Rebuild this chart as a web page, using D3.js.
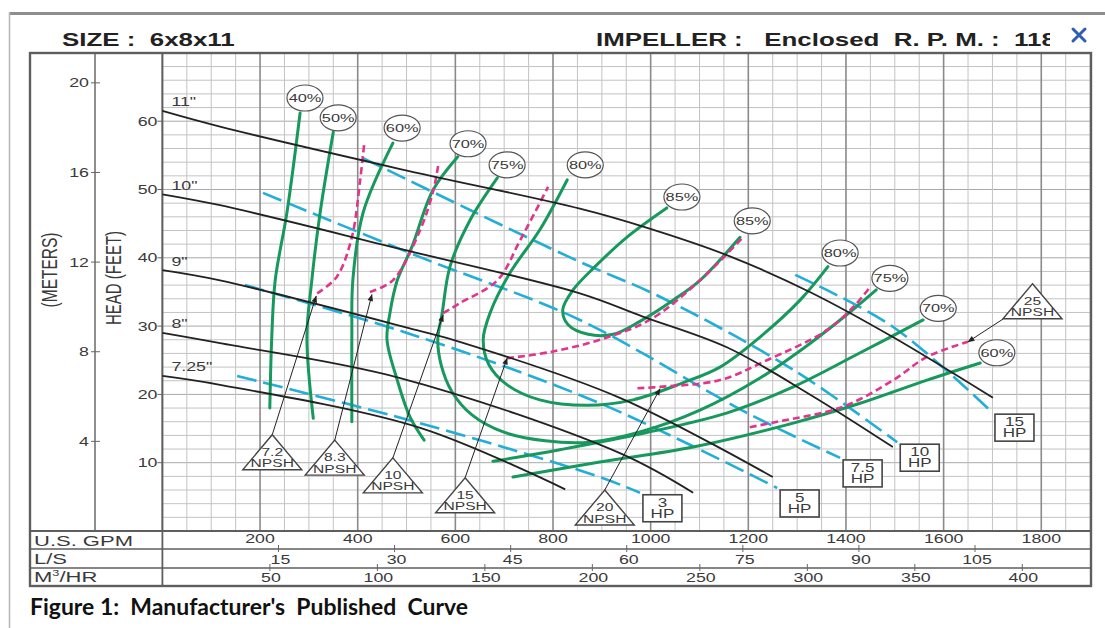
<!DOCTYPE html>
<html>
<head>
<meta charset="utf-8">
<script src="https://cdn.jsdelivr.net/npm/d3@7"></script>
<style>
  html, body { margin: 0; padding: 0; background: #fff; }
  svg { display: block; }
</style>
</head>
<body>
<svg id="chart" width="1105" height="628"></svg>
<script>
// ---------- data (flow in U.S. GPM, head in feet) ----------
const gpmTicks   = [200, 400, 600, 800, 1000, 1200, 1400, 1600, 1800];
const lsTicks    = [15, 30, 45, 60, 75, 90, 105];
const m3hTicks   = [50, 100, 150, 200, 250, 300, 350, 400];
const feetTicks  = [10, 20, 30, 40, 50, 60];
const meterTicks = [4, 8, 12, 16, 20];

// impeller head-capacity curves
const impNames = ['11"', '10"', '9"', '8"', '7.25"'];
const imp11  = [[0,61.5],[118,59.2],[487,53.0],[855,47.2],[988,44.5],[1156,40.4],[1326,35.0],[1496,28.4],[1701,19.5]];
const imp10  = [[0,49.3],[118,47.7],[487,41.3],[855,34.8],[984,31.4],[1156,26.9],[1326,20.0],[1496,12.3]];
const imp9   = [[0,38.2],[118,36.7],[521,29.4],[609,27.7],[937,19.5],[1250,7.9]];
const imp8   = [[0,29.0],[118,27.5],[487,22.4],[937,11.4],[1087,5.6]];
const imp725 = [[0,22.7],[118,21.4],[528,15.1],[825,6.1]];

// iso-efficiency curves
const eff40  = [[282,61.2],[255,46.6],[231,36.7],[224,28.4],[220,18.0]];
const eff50  = [[350,58.4],[323,46.6],[306,36.7],[296,28.4],[309,16.5]];
const eff60L = [[472,56.8],[411,46.6],[390,36.7],[388,28.4],[388,16.0]];
const eff60R = [[718,7.9],[896,10.1],[1087,12.3],[1292,15.8],[1429,18.7],[1566,22.1],[1675,24.6]];
const eff70L = [[605,54.8],[554,49.9],[511,41.6],[481,36.7],[466,31.9],[460,28.0],[481,22.1],[507,16.7],[536,13.3]];
const eff70R = [[677,10.2],[814,11.9],[985,14.3],[1157,17.3],[1292,21.1],[1429,26.1],[1558,30.9]];
const eff75  = [[686,51.7],[630,45.5],[589,38.7],[573,31.9],[564,28.0],[571,24.3],[593,20.4],[634,17.0],[698,14.5],[784,13.2],[876,13.0],[978,14.5],[1101,17.7],[1224,22.4],[1327,27.5],[1409,32.1],[1462,35.3]];
const eff80  = [[829,51.4],[773,44.1],[712,37.8],[671,31.9],[657,28.0],[669,24.3],[706,21.4],[773,19.2],[870,18.4],[964,19.2],[1066,21.7],[1142,24.0],[1224,28.4],[1306,33.8],[1363,38.7]];
const eff85  = [[1033,47.3],[951,43.0],[886,38.7],[841,35.3],[820,32.4],[831,30.2],[872,28.8],[923,28.8],[978,30.7],[1046,33.8],[1101,36.7],[1183,43.0]];

const effTagText = ['40%','50%','60%','70%','75%','80%','85%','85%','80%','75%','70%','60%'];
const effTagGpm  = [292, 360, 491, 626, 706, 866, 1064, 1208, 1388, 1490, 1589, 1709];
const effTagFt   = [63.4, 60.5, 59.0, 56.7, 53.6, 53.6, 48.9, 45.4, 40.7, 37.0, 32.6, 26.1];

// required NPSH (feet)
const npshNames = ['7.2', '8.3', '10', '15', '20', '25'];
const npsh72 = [[317,34.8],[357,37.2],[388,43.0],[405,51.4],[413,56.5]];
const npsh83 = [[425,35.0],[472,36.7],[528,44.1],[555,49.9],[565,53.6]];
const npsh10 = [[575,31.9],[610,33.4],[686,36.7],[733,42.6],[790,50.4]];
const npsh15 = [[706,25.3],[794,26.2],[896,28.0],[998,30.9],[1101,36.7],[1189,43.0]];
const npsh20 = [[973,20.9],[1019,21.1],[1142,22.1],[1238,25.0],[1361,29.4],[1419,33.1],[1449,35.7]];
const npsh25 = [[1203,15.2],[1259,16.0],[1394,18.2],[1497,22.1],[1566,25.5],[1650,27.7]];
const npshTagGpm = [225, 353, 472, 620, 906, 1782];
const npshTagFt  = [14.1, 13.3, 10.7, 7.8, 6.0, 36.2];
const npshTipGpm = [315, 429, 575, 706, 1019, 1650];
const npshTipFt  = [34.4, 34.6, 31.6, 25.3, 20.8, 27.7];

// brake horsepower lines
const hpNames = ['3', '5', '7.5', '10', '15'];
const hp3  = [[153,22.7],[527,15.8],[896,7.9],[978,5.6]];
const hp5  = [[169,36.0],[501,29.0],[896,18.7],[1259,6.3]];
const hp75 = [[206,49.5],[528,40.1],[855,30.9],[1197,17.3],[1388,10.7]];
const hp10 = [[411,54.6],[630,47.0],[855,39.4],[1019,34.3],[1292,23.6],[1505,13.0]];
const hp15 = [[1296,37.5],[1496,29.9],[1699,17.4]];

// ---------- layout ----------
const FONT = '"Liberation Sans", Arial, Helvetica, sans-serif';
const SX = 1.42;               // horizontal stretch of lettering
const plotL = 162.4, plotR = 1090.1, plotT = 52.9, plotB = 531;
const frameL = 30, frameR = 1091, frameT = 53, frameB = 586;
const meterX = 95;
const rowLines = [549, 568];

const GREEN = '#17985d', CYAN = '#22aed6', PINK = '#e0358c', INK = '#222';

const x = d3.scaleLinear().domain([0, 1900]).range([plotL, plotR]);
const y = d3.scaleLinear().domain([0, 70]).range([plotB, plotT]);
const GPM_PER_LS = 15.8503, GPM_PER_M3H = 4.40287, FT_PER_M = 3.28084;

const svg = d3.select('#chart');

// single- or multi-line stretched label; lines share one <text> element
function label(sel, px, py, str, o = {}) {
  const t = sel.append('text')
    .attr('transform', `translate(${px},${py}) scale(${o.sx || SX},1)`)
    .attr('text-anchor', o.anchor || 'middle')
    .attr('font-family', o.family || FONT)
    .attr('font-size', o.size || 12.5)
    .attr('font-weight', o.weight || 'normal')
    .attr('fill', o.fill || '#3a3a3a')
    .style('white-space', 'pre');
  if (Array.isArray(str)) {
    str.forEach((s, i) => t.append('tspan').attr('x', 0).attr('dy', i === 0 ? 0 : (o.lead || 11)).text(s));
  } else {
    t.text(str);
  }
  return t;
}

const defs = svg.append('defs');
defs.append('marker').attr('id', 'arrowHead')
  .attr('viewBox', '0 0 10 10').attr('refX', 9).attr('refY', 5)
  .attr('markerWidth', 8).attr('markerHeight', 7).attr('orient', 'auto')
  .append('path').attr('d', 'M0,1 L10,5 L0,9 Z').attr('fill', INK);
defs.append('clipPath').attr('id', 'headClip')
  .append('rect').attr('x', 0).attr('y', 0).attr('width', 1050).attr('height', 52);

// ---------- window chrome ----------
svg.append('rect').attr('x', 0).attr('y', 0).attr('width', 1105).attr('height', 628).attr('fill', '#fff');
svg.append('line').attr('x1', 9).attr('x2', 1105).attr('y1', 13.5).attr('y2', 13.5)
  .attr('stroke', '#8e8e8e').attr('stroke-width', 3);
svg.append('line').attr('x1', 9.5).attr('x2', 9.5).attr('y1', 12).attr('y2', 628)
  .attr('stroke', '#b5b5b5').attr('stroke-width', 1.5);

// ---------- grid ----------
const grid = svg.append('g');
grid.selectAll('line.h').data(d3.range(0, 71, 2)).join('line')
  .attr('x1', plotL).attr('x2', plotR)
  .attr('y1', d => y(d)).attr('y2', d => y(d))
  .attr('stroke', d => d % 10 === 0 ? '#a9a9a9' : '#c3c3c3').attr('stroke-width', 1);
grid.selectAll('line.v').data(d3.range(0, 1901, 50)).join('line')
  .attr('y1', plotT).attr('y2', plotB)
  .attr('x1', d => x(d)).attr('x2', d => x(d))
  .attr('stroke', d => d % 200 === 0 ? '#8a8a8a' : '#c3c3c3')
  .attr('stroke-width', d => d % 200 === 0 ? 1.6 : 1);

// ---------- frame and table ----------
const frame = svg.append('g').attr('stroke', '#5e5e5e').attr('fill', 'none');
frame.append('rect').attr('x', frameL).attr('y', frameT)
  .attr('width', frameR - frameL).attr('height', frameB - frameT).attr('stroke-width', 2.4);
frame.append('line').attr('x1', plotL).attr('x2', plotL).attr('y1', frameT).attr('y2', frameB).attr('stroke-width', 1.8);
frame.append('line').attr('x1', meterX).attr('x2', meterX).attr('y1', frameT).attr('y2', plotB).attr('stroke-width', 1.4);
frame.append('line').attr('x1', frameL).attr('x2', frameR).attr('y1', plotB).attr('y2', plotB).attr('stroke-width', 1.8);
rowLines.forEach(r => frame.append('line').attr('x1', frameL).attr('x2', frameR)
  .attr('y1', r).attr('y2', r).attr('stroke-width', 1.4));

// ---------- curves ----------
const line = d3.line().x(d => x(d[0])).y(d => y(d[1])).curve(d3.curveCatmullRom.alpha(0.5));

const hpCurves = [hp3, hp5, hp75, hp10, hp15];
svg.append('g').selectAll('path').data(hpCurves).join('path')
  .attr('d', line).attr('fill', 'none').attr('stroke', CYAN)
  .attr('stroke-width', 2.6).attr('stroke-dasharray', '20,7');

const effCurves = [eff40, eff50, eff60L, eff60R, eff70L, eff70R, eff75, eff80, eff85];
svg.append('g').selectAll('path').data(effCurves).join('path')
  .attr('d', line).attr('fill', 'none').attr('stroke', GREEN)
  .attr('stroke-width', 3).attr('stroke-linecap', 'round');

const npshCurves = [npsh72, npsh83, npsh10, npsh15, npsh20, npsh25];
svg.append('g').selectAll('path').data(npshCurves).join('path')
  .attr('d', line).attr('fill', 'none').attr('stroke', PINK)
  .attr('stroke-width', 2.6).attr('stroke-dasharray', '7,4');

const impCurves = [imp11, imp10, imp9, imp8, imp725];
svg.append('g').selectAll('path').data(impCurves).join('path')
  .attr('d', line).attr('fill', 'none').attr('stroke', INK).attr('stroke-width', 1.8);

impCurves.forEach((c, i) => {
  label(svg, x(c[0][0]) + 9, y(c[0][1]) - 4.5, impNames[i], { anchor: 'start', size: 12.5 });
});

// ---------- NPSH arrows and triangles ----------
const arrows = svg.append('g');
npshNames.forEach((n, i) => {
  const ax = x(npshTagGpm[i]), ay = y(npshTagFt[i]);
  const fromLeft = i === npshNames.length - 1;
  const sx0 = fromLeft ? ax - 29 : ax, sy0 = fromLeft ? ay + 35 : ay;
  const tx = x(npshTipGpm[i]), ty = y(npshTipFt[i]);
  arrows.append('line').attr('x1', sx0).attr('y1', sy0).attr('x2', tx).attr('y2', ty)
    .attr('stroke', INK).attr('stroke-width', 1).attr('marker-end', 'url(#arrowHead)');
  arrows.append('path')
    .attr('d', `M${ax},${ay} L${ax + 29.5},${ay + 35} L${ax - 29.5},${ay + 35} Z`)
    .attr('fill', '#fff').attr('stroke', '#444').attr('stroke-width', 1.4);
  label(arrows, ax, ay + 21, [n, 'NPSH'], { size: 11, lead: 11.5 });
});

// ---------- HP boxes ----------
const boxes = svg.append('g');
hpCurves.forEach((c, i) => {
  const e = c[c.length - 1];
  const bx = x(e[0]) + 3, by = y(e[1]) + 2;
  boxes.append('rect').attr('x', bx).attr('y', by).attr('width', 39).attr('height', 27)
    .attr('fill', '#fff').attr('stroke', '#444').attr('stroke-width', 1.6);
  label(boxes, bx + 19.5, by + 12, [hpNames[i], 'HP'], { size: 12, lead: 11 });
});

// ---------- efficiency tags ----------
const tags = svg.append('g');
effTagText.forEach((t, i) => {
  const cx = x(effTagGpm[i]), cy = y(effTagFt[i]);
  tags.append('ellipse').attr('cx', cx).attr('cy', cy).attr('rx', 18).attr('ry', 13)
    .attr('fill', '#fff').attr('stroke', '#555').attr('stroke-width', 1.2);
  label(tags, cx, cy + 4, t, { size: 11.5 });
});

// ---------- left axes ----------
const axes = svg.append('g');
feetTicks.forEach(v => {
  axes.append('line').attr('x1', plotL - 5).attr('x2', plotL).attr('y1', y(v)).attr('y2', y(v))
    .attr('stroke', '#666').attr('stroke-width', 1);
  label(axes, plotL - 5, y(v) + 4.5, String(v), { anchor: 'end', size: 12.5 });
});
meterTicks.forEach(v => {
  const py = y(v * FT_PER_M);
  axes.append('line').attr('x1', meterX - 4).attr('x2', meterX + 5).attr('y1', py).attr('y2', py)
    .attr('stroke', '#666').attr('stroke-width', 1);
  label(axes, meterX - 6, py + 4.5, String(v), { anchor: 'end', size: 12.5 });
});
axes.append('text')
  .attr('transform', `translate(121,278) scale(${SX},1) rotate(-90)`)
  .attr('text-anchor', 'middle').attr('font-family', FONT).attr('font-size', 15)
  .attr('fill', '#3a3a3a').text('HEAD (FEET)');
axes.append('text')
  .attr('transform', `translate(57,270) scale(${SX},1) rotate(-90)`)
  .attr('text-anchor', 'middle').attr('font-family', FONT).attr('font-size', 15.5)
  .attr('fill', '#3a3a3a').text('(METERS)');

// ---------- bottom scales ----------
const bottom = svg.append('g');
label(bottom, 34, 546, 'U.S. GPM', { anchor: 'start', size: 15.5 });
label(bottom, 34, 564, 'L/S', { anchor: 'start', size: 15.5 });
const m3 = label(bottom, 34, 582, '', { anchor: 'start', size: 15.5 });
m3.append('tspan').text('M');
m3.append('tspan').attr('font-size', 9).attr('dy', -6).text('3');
m3.append('tspan').attr('dy', 6).text('/HR');

gpmTicks.forEach(v => label(bottom, x(v), 543, String(v), { size: 12.5 }));
lsTicks.forEach(v => {
  const px = x(v * GPM_PER_LS);
  bottom.append('line').attr('x1', px).attr('x2', px).attr('y1', 545).attr('y2', 552)
    .attr('stroke', '#666').attr('stroke-width', 1);
  label(bottom, px + 2, 564, String(v), { size: 12.5 });
});
m3hTicks.forEach(v => {
  const px = x(v * GPM_PER_M3H);
  bottom.append('line').attr('x1', px).attr('x2', px).attr('y1', 564).attr('y2', 571)
    .attr('stroke', '#666').attr('stroke-width', 1);
  label(bottom, px + 1, 582, String(v), { size: 12.5 });
});

// ---------- header ----------
const head = svg.append('g');
label(head, 62, 46, 'SIZE :  6x8x11', { anchor: 'start', size: 17.5, weight: 'bold', sx: 1.48, fill: '#222' });
label(head.append('g').attr('clip-path', 'url(#headClip)'), 596, 46,
  'IMPELLER :   Enclosed  R. P. M. :  1180', { anchor: 'start', size: 17.5, weight: 'bold', sx: 1.48, fill: '#222' });
head.append('path').attr('d', 'M1073,29 L1085,41 M1085,29 L1073,41')
  .attr('stroke', '#2d5db5').attr('stroke-width', 3).attr('stroke-linecap', 'round');

// ---------- caption ----------
const cap = svg.append('text')
  .attr('font-family', 'Lato, "Open Sans", sans-serif').attr('font-weight', 'bold')
  .attr('font-size', 23).attr('fill', '#111').style('white-space', 'pre')
  .text("Figure 1:  Manufacturer's  Published  Curve");
const capLen = cap.node().getComputedTextLength();
cap.attr('transform', `translate(30,615) scale(${438 / capLen},1)`);
</script>
</body>
</html>
